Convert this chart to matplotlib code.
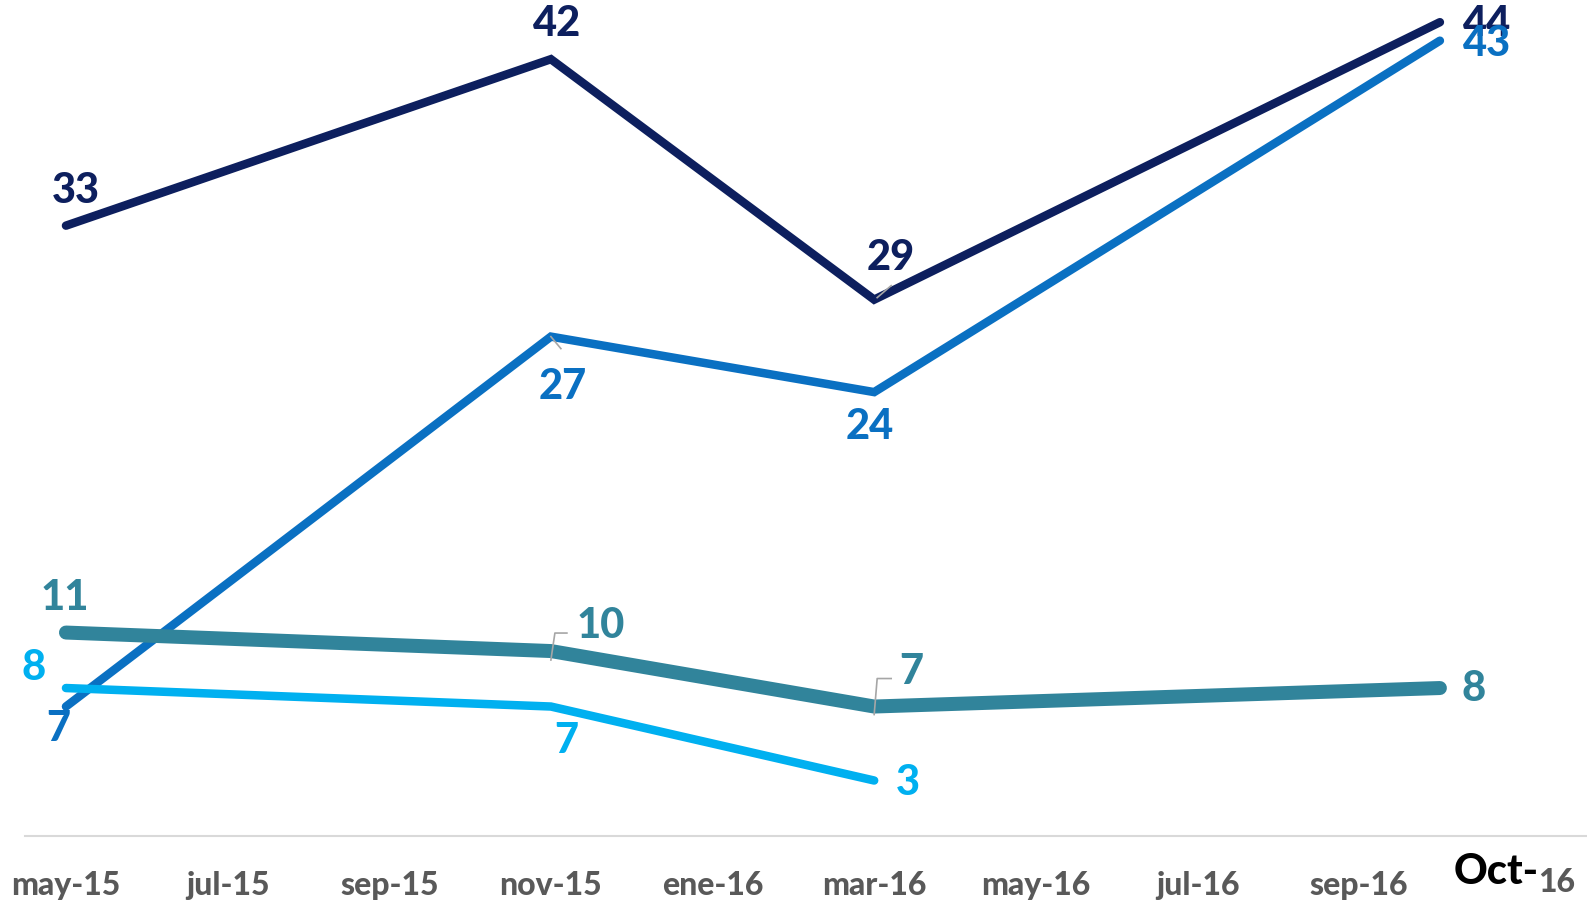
import matplotlib
matplotlib.use("Agg")
import matplotlib.pyplot as plt
import matplotlib.transforms as mtransforms

plt.rcParams['font.family'] = ['Lato', 'DejaVu Sans']

# months counted from may-15
tick_pos = [0, 2, 4, 6, 8, 10, 12, 14, 16]
tick_labels = ['may-15', 'jul-15', 'sep-15', 'nov-15', 'ene-16', 'mar-16', 'may-16', 'jul-16', 'sep-16']

x4 = [0, 6, 10, 17]
navy_vals = [33, 42, 29, 44]
blue_vals = [7, 27, 24, 43]
teal_vals = [11, 10, 7, 8]
x3 = [0, 6, 10]
cyan_vals = [8, 7, 3]

fig = plt.figure(figsize=(15.87, 9.02), dpi=100)
ax = fig.add_axes([25 / 1587, 66 / 902, 1 - 25 / 1587, 1 - 66 / 902])
ax.set_xlim(-0.507, 18.82)
ax.set_ylim(0, 45.2)

series = [
    (x4, navy_vals, '#0D1F5E', 8.5, [(10, 35), (6, 35), (17, 42), (47, -2)]),
    (x4, blue_vals, '#0A70C2', 8.5, [(-8, -22), (12, -50), (-4, -35), (47, -3)]),
    (x4, teal_vals, '#31849B', 14, [(-1, 35), (50, 25), (37, 35), (34, -1)]),
    (x3, cyan_vals, '#00B0F0', 8.5, [(-32, 20), (15, -34), (34, -2)]),
]
for xs, ys, col, lw, offs in series:
    ax.plot(xs, ys, color=col, lw=lw * 0.72, solid_capstyle='round', solid_joinstyle='miter')
    for xv, yv, (dx, dy) in zip(xs, ys, offs):
        ax.annotate(str(yv), (xv, yv), xytext=(dx, dy), textcoords='offset pixels',
                    ha='center', va='center', fontsize=30, fontweight='black', color=col)

# little leader lines (pixel offsets from the point)
leaders = [((10, 29), [(3, 2), (17, 14)]),
           ((6, 27), [(0, 0), (10, -12)]),
           ((6, 10), [(0, -9), (4, 18), (16, 18)]),
           ((10, 7), [(0, -8), (3, 28), (17, 28)])]
for (xv, yv), pts in leaders:
    px, py = ax.transData.transform((xv, yv))
    lx = [px + p[0] for p in pts]
    ly = [py + p[1] for p in pts]
    ax.plot(lx, ly, color='#A6A6A6', lw=1.2, transform=mtransforms.IdentityTransform())

ax.set_xticks(tick_pos)
ax.set_xticklabels(tick_labels, fontsize=23, fontweight='black', color='#595959')
ax.tick_params(axis='x', length=0, pad=25)
ax.set_yticks([])
for s in ['top', 'right', 'left']:
    ax.spines[s].set_visible(False)
ax.spines['bottom'].set_color('#D9D9D9')
ax.spines['bottom'].set_linewidth(1.5)

trans = mtransforms.blended_transform_factory(ax.transData, fig.transFigure)
ax.text(18.22, 30 / 902, 'Oct-', transform=trans, ha='right', va='center',
        fontsize=30, fontweight='black', color='black')
ax.text(18.22, 20 / 902, '16', transform=trans, ha='left', va='center',
        fontsize=23, fontweight='black', color='#595959')

fig.savefig('out.png', dpi=100)
